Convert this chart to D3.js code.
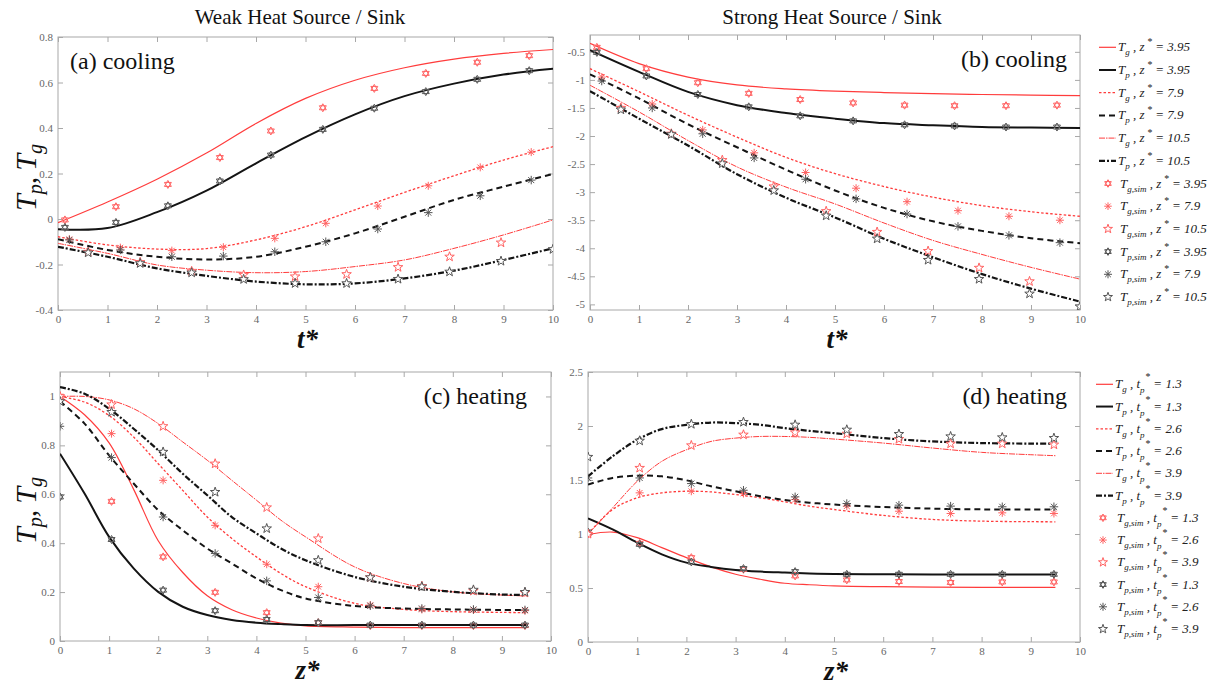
<!DOCTYPE html>
<html lang="en">
	<head>
		<meta charset="UTF-8" />
		<title>Weak / Strong Heat Source and Sink</title>
		<script src="https://d3js.org/d3.v7.min.js"></script>
		<style>
			body {
				margin: 0;
				background: #fff;
			}
			svg {
				font-family: 'Liberation Serif', 'Times New Roman', serif;
			}
			.tick text {
				fill: #666;
				font-size: 11px;
			}
			.tick line {
				stroke: #a8a8a8;
			}
			.legend text {
				font-style: italic;
				font-size: 13px;
				fill: #222;
			}
		</style>
	</head>
	<body>
		<svg id="chart" width="1210" height="687"></svg>
		<script>
			// ---- data ----
			const tA = [0, 1, 2, 3, 4, 5, 6, 7, 8, 9, 10];
			const zGrid = [0, 0.5, 1, 1.5, 2, 2.5, 3, 3.5, 4, 4.5, 5, 6, 7, 8, 9, 9.5];

			// (a) weak, cooling : lines vs t*
			const aTg1 = [-0.016, 0.075, 0.175, 0.29, 0.42, 0.53, 0.61, 0.665, 0.703, 0.728, 0.745];
			const aTp1 = [-0.045, -0.04, 0.03, 0.125, 0.245, 0.36, 0.46, 0.54, 0.595, 0.635, 0.66];
			const aTg2 = [-0.078, -0.114, -0.132, -0.13, -0.092, -0.034, 0.04, 0.117, 0.19, 0.259, 0.318];
			const aTp2 = [-0.089, -0.136, -0.166, -0.178, -0.166, -0.122, -0.063, 0.01, 0.084, 0.142, 0.198];
			const aTg3 = [-0.107, -0.151, -0.202, -0.225, -0.236, -0.231, -0.209, -0.18, -0.129, -0.07, -0.004];
			const aTp3 = [-0.122, -0.166, -0.217, -0.25, -0.275, -0.287, -0.283, -0.261, -0.227, -0.18, -0.129];
			// (a) simulation points
			const sA1 = [0.14, 1.17, 2.22, 3.27, 4.3, 5.35, 6.39, 7.43, 8.47, 9.52];
			const sA2 = [0.23, 1.26, 2.3, 3.34, 4.38, 5.41, 6.46, 7.48, 8.53, 9.56];
			const sA3 = [0.61, 1.66, 2.7, 3.75, 4.79, 5.83, 6.87, 7.91, 8.95, 10.0];
			const aTgS1 = [-0.004, 0.054, 0.152, 0.27, 0.387, 0.489, 0.574, 0.64, 0.689, 0.718];
			const aTpS1 = [-0.037, -0.015, 0.058, 0.167, 0.281, 0.394, 0.487, 0.56, 0.614, 0.652];
			const aTgS2 = [-0.089, -0.126, -0.139, -0.124, -0.085, -0.019, 0.057, 0.146, 0.227, 0.294];
			const aTpS2 = [-0.092, -0.136, -0.166, -0.163, -0.144, -0.1, -0.044, 0.028, 0.102, 0.171];
			const aTgS3 = [-0.145, -0.19, -0.23, -0.246, -0.253, -0.243, -0.212, -0.166, -0.104];
			const aTpS3 = [-0.148, -0.195, -0.236, -0.265, -0.283, -0.283, -0.264, -0.232, -0.185, -0.133];

			// (b) strong, cooling
			const bTg1 = [-0.35, -0.71, -0.95, -1.09, -1.16, -1.2, -1.225, -1.245, -1.26, -1.27, -1.28];
			const bTp1 = [-0.47, -0.857, -1.214, -1.45, -1.59, -1.69, -1.77, -1.81, -1.84, -1.85, -1.855];
			const bTg2 = [-0.8, -1.21, -1.63, -2.02, -2.38, -2.67, -2.9, -3.09, -3.24, -3.35, -3.43];
			const bTp2 = [-0.9, -1.33, -1.79, -2.2, -2.6, -2.97, -3.28, -3.52, -3.69, -3.82, -3.91];
			const bTg3 = [-1.095, -1.57, -2.08, -2.55, -2.91, -3.21, -3.55, -3.86, -4.11, -4.34, -4.55];
			const bTp3 = [-1.2, -1.69, -2.17, -2.68, -3.1, -3.45, -3.83, -4.16, -4.46, -4.72, -4.95];
			const sB1 = [0.14, 1.15, 2.2, 3.24, 4.29, 5.37, 6.42, 7.44, 8.49, 9.53];
			const sB2 = [0.24, 1.27, 2.3, 3.35, 4.4, 5.43, 6.47, 7.51, 8.55, 9.59];
			const sB3 = [0.63, 1.66, 2.7, 3.75, 4.82, 5.86, 6.9, 7.94, 8.97, 10.0];
			const bTgS1 = [-0.42, -0.8, -1.05, -1.24, -1.35, -1.41, -1.45, -1.46, -1.46, -1.45];
			const bTpS1 = [-0.51, -0.93, -1.26, -1.48, -1.64, -1.73, -1.8, -1.82, -1.84, -1.84];
			const bTgS2 = [-0.95, -1.43, -1.89, -2.3, -2.65, -2.93, -3.17, -3.33, -3.43, -3.5];
			const bTpS2 = [-1.02, -1.5, -1.96, -2.39, -2.77, -3.12, -3.39, -3.61, -3.77, -3.9];
			const bTgS3 = [-1.5, -1.96, -2.43, -2.9, -3.34, -3.71, -4.05, -4.35, -4.59];
			const bTpS3 = [-1.53, -1.97, -2.49, -2.97, -3.42, -3.83, -4.21, -4.55, -4.81, -5.04];

			// (c) weak, heating : lines vs z*
			const cTg1 = [1.0, 0.925, 0.81, 0.62, 0.41, 0.28, 0.185, 0.128, 0.094, 0.073, 0.062, 0.057, 0.055, 0.055, 0.055, 0.055];
			const cTp1 = [0.766, 0.603, 0.426, 0.297, 0.201, 0.14, 0.106, 0.086, 0.075, 0.069, 0.065, 0.065, 0.065, 0.065, 0.065, 0.065];
			const cTg2 = [1.0, 0.977, 0.922, 0.834, 0.725, 0.616, 0.507, 0.419, 0.344, 0.276, 0.222, 0.154, 0.129, 0.12, 0.117, 0.116];
			const cTp2 = [0.98, 0.889, 0.759, 0.644, 0.535, 0.453, 0.378, 0.317, 0.256, 0.208, 0.174, 0.143, 0.133, 0.129, 0.127, 0.127];
			const cTg3 = [1.0, 1.0, 0.986, 0.95, 0.889, 0.814, 0.739, 0.657, 0.576, 0.494, 0.426, 0.303, 0.235, 0.201, 0.188, 0.184];
			const cTp3 = [1.038, 1.011, 0.95, 0.868, 0.78, 0.684, 0.596, 0.507, 0.44, 0.378, 0.33, 0.262, 0.222, 0.201, 0.19, 0.188];
			const zS = [0, 1.05, 2.1, 3.16, 4.21, 5.26, 6.32, 7.37, 8.42, 9.47];
			const cTgS1 = [1.0, 0.571, 0.344, 0.199, 0.116, 0.075, 0.063, 0.063, 0.063, 0.063];
			const cTpS1 = [0.589, 0.415, 0.208, 0.124, 0.088, 0.075, 0.065, 0.065, 0.065, 0.065];
			const cTgS2 = [1.0, 0.848, 0.657, 0.473, 0.314, 0.222, 0.147, 0.129, 0.127, 0.124];
			const cTpS2 = [0.878, 0.75, 0.507, 0.358, 0.246, 0.178, 0.144, 0.133, 0.129, 0.127];
			const cTgS3 = [1.0, 0.967, 0.878, 0.725, 0.546, 0.419, 0.26, 0.224, 0.205, 0.197];
			const cTpS3 = [0.98, 0.936, 0.773, 0.609, 0.46, 0.33, 0.26, 0.222, 0.209, 0.2];

			// (d) strong, heating
			const dTg1 = [0.996, 1.018, 0.966, 0.874, 0.781, 0.695, 0.627, 0.581, 0.544, 0.53, 0.52, 0.512, 0.508, 0.506, 0.505, 0.505];
			const dTp1 = [1.144, 1.042, 0.92, 0.812, 0.735, 0.695, 0.667, 0.652, 0.643, 0.635, 0.63, 0.627, 0.625, 0.625, 0.625, 0.625];
			const dTg2 = [1.0, 1.227, 1.335, 1.381, 1.396, 1.39, 1.365, 1.335, 1.298, 1.258, 1.227, 1.172, 1.135, 1.119, 1.114, 1.113];
			const dTp2 = [1.458, 1.519, 1.54, 1.534, 1.497, 1.442, 1.396, 1.35, 1.315, 1.29, 1.273, 1.25, 1.235, 1.228, 1.227, 1.227];
			const dTg3 = [1.0, 1.242, 1.488, 1.673, 1.78, 1.857, 1.888, 1.903, 1.903, 1.895, 1.879, 1.842, 1.796, 1.756, 1.734, 1.725];
			const dTp3 = [1.534, 1.719, 1.873, 1.971, 2.011, 2.032, 2.027, 2.011, 1.98, 1.955, 1.934, 1.888, 1.857, 1.842, 1.837, 1.836];
			const dTgS1 = [1.0, 0.913, 0.781, 0.673, 0.612, 0.575, 0.56, 0.551, 0.556, 0.556];
			const dTpS1 = [1.018, 0.904, 0.741, 0.68, 0.652, 0.627, 0.627, 0.627, 0.627, 0.627];
			const dTgS2 = [1.0, 1.381, 1.396, 1.375, 1.319, 1.258, 1.211, 1.19, 1.196, 1.19];
			const dTpS2 = [1.519, 1.519, 1.467, 1.405, 1.344, 1.282, 1.267, 1.258, 1.252, 1.252];
			const dTgS3 = [1.0, 1.611, 1.82, 1.919, 1.94, 1.928, 1.879, 1.836, 1.836, 1.827];
			const dTpS3 = [1.713, 1.863, 2.017, 2.036, 2.011, 1.965, 1.925, 1.903, 1.894, 1.888];

			// ticks and labels
			const xTicks = [0, 1, 2, 3, 4, 5, 6, 7, 8, 9, 10];
			const yTicksA = [-0.4, -0.2, 0, 0.2, 0.4, 0.6, 0.8];
			const yTicksB = [-5, -4.5, -4, -3.5, -3, -2.5, -2, -1.5, -1, -0.5];
			const yTicksC = [0, 0.2, 0.4, 0.6, 0.8, 1];
			const yTicksD = [0, 0.5, 1, 1.5, 2, 2.5];
			const columnTitles = ['Weak Heat Source / Sink', 'Strong Heat Source / Sink'];
			const panelNames = ['(a) cooling', '(b) cooling', '(c) heating', '(d) heating'];
			const zValues = ['3.95', '7.9', '10.5'];
			const tpValues = ['1.3', '2.6', '3.9'];

			// ---- styles ----
			const red = '#ff3c3c';
			const black = '#141414';
			const redMk = '#ff6262';
			const grayMk = '#555';

			const lineStyles = [
				{ color: red, width: 1.2, dash: null },
				{ color: black, width: 2, dash: null },
				{ color: red, width: 1.3, dash: '2.5,2' },
				{ color: black, width: 2, dash: '6,4' },
				{ color: red, width: 1, dash: '6,1,1.5,1' },
				{ color: black, width: 2.2, dash: '6,2,2,2' },
			];

			const hexagram = {
				draw(ctx, size) {
					const r = Math.sqrt(size);
					const c = r * Math.cos(Math.PI / 6);
					ctx.moveTo(0, -r);
					ctx.lineTo(c, r / 2);
					ctx.lineTo(-c, r / 2);
					ctx.closePath();
					ctx.moveTo(0, r);
					ctx.lineTo(c, -r / 2);
					ctx.lineTo(-c, -r / 2);
					ctx.closePath();
				},
			};
			const asterisk = {
				draw(ctx, size) {
					const r = Math.sqrt(size);
					for (let k = 0; k < 4; k++) {
						const a = (k * Math.PI) / 4;
						ctx.moveTo(-r * Math.cos(a), -r * Math.sin(a));
						ctx.lineTo(r * Math.cos(a), r * Math.sin(a));
					}
				},
			};
			const star = {
				draw(ctx, size) {
					const r = Math.sqrt(size);
					for (let k = 0; k < 10; k++) {
						const rr = k % 2 ? r * 0.4 : r;
						const a = -Math.PI / 2 + (k * Math.PI) / 5;
						const px = rr * Math.cos(a);
						const py = rr * Math.sin(a);
						if (k === 0) ctx.moveTo(px, py);
						else ctx.lineTo(px, py);
					}
					ctx.closePath();
				},
			};

			// order: Tg1, Tp1, Tg2, Tp2, Tg3, Tp3
			const simStyles = [
				{ shape: hexagram, size: 16, color: redMk, fill: 'white' },
				{ shape: hexagram, size: 16, color: grayMk, fill: 'white' },
				{ shape: asterisk, size: 16, color: redMk, fill: 'none' },
				{ shape: asterisk, size: 18, color: grayMk, fill: 'none' },
				{ shape: star, size: 25, color: redMk, fill: 'white' },
				{ shape: star, size: 25, color: grayMk, fill: 'white' },
			];

			const panels = [
				{
					box: [58, 37, 553, 310],
					yDomain: [-0.4, 0.8],
					yTicks: yTicksA,
					name: panelNames[0],
					nameAnchor: 'start',
					nameX: 70,
					lineX: tA,
					lines: [aTg1, aTp1, aTg2, aTp2, aTg3, aTp3],
					simX: [sA1, sA1, sA2, sA2, sA3, sA3],
					sims: [aTgS1, aTpS1, aTgS2, aTpS2, aTgS3, aTpS3],
					xLabel: 't',
					yLabel: true,
				},
				{
					box: [590, 35, 1080, 310],
					yDomain: [-5.1, -0.2],
					yTicks: yTicksB,
					name: panelNames[1],
					nameAnchor: 'end',
					nameX: 1067,
					lineX: tA,
					lines: [bTg1, bTp1, bTg2, bTp2, bTg3, bTp3],
					simX: [sB1, sB1, sB2, sB2, sB3, sB3],
					sims: [bTgS1, bTpS1, bTgS2, bTpS2, bTgS3, bTpS3],
					xLabel: 't',
					yLabel: false,
				},
				{
					box: [60, 372, 551, 641],
					yDomain: [0, 1.1],
					yTicks: yTicksC,
					name: panelNames[2],
					nameAnchor: 'end',
					nameX: 527,
					lineX: zGrid,
					lines: [cTg1, cTp1, cTg2, cTp2, cTg3, cTp3],
					simX: [zS, zS, zS, zS, zS, zS],
					sims: [cTgS1, cTpS1, cTgS2, cTpS2, cTgS3, cTpS3],
					xLabel: 'z',
					yLabel: true,
				},
				{
					box: [588, 372, 1080, 642],
					yDomain: [0, 2.5],
					yTicks: yTicksD,
					name: panelNames[3],
					nameAnchor: 'end',
					nameX: 1067,
					lineX: zGrid,
					lines: [dTg1, dTp1, dTg2, dTp2, dTg3, dTp3],
					simX: [zS, zS, zS, zS, zS, zS],
					sims: [dTgS1, dTpS1, dTgS2, dTpS2, dTgS3, dTpS3],
					xLabel: 'z',
					yLabel: false,
				},
			];

			const svg = d3.select('#chart');
			const fmt = (d) => String(+d.toFixed(2));

			// column titles
			svg
				.selectAll('text.title')
				.data(columnTitles)
				.enter()
				.append('text')
				.attr('class', 'title')
				.attr('x', (d, i) => (i ? 832 : 300))
				.attr('y', 24)
				.attr('text-anchor', 'middle')
				.attr('font-size', 21)
				.attr('fill', '#111')
				.text((d) => d);

			const drawPanel = (p, idx) => {
				const [x0, y0, x1, y1] = p.box;
				const x = d3.scaleLinear().domain([0, 10]).range([x0, x1]);
				const y = d3.scaleLinear().domain(p.yDomain).range([y1, y0]);
				const g = svg.append('g');

				g.append('clipPath')
					.attr('id', 'clip' + idx)
					.append('rect')
					.attr('x', x0)
					.attr('y', y0)
					.attr('width', x1 - x0)
					.attr('height', y1 - y0);

				// axes, ticks pointing inward on all four sides
				const addAxis = (axis, tr) => {
					const a = g.append('g').attr('transform', tr).call(axis);
					a.select('.domain').remove();
					a.selectAll('text').attr('font-family', "'Liberation Serif', serif");
					return a;
				};
				addAxis(d3.axisBottom(x).tickValues(xTicks).tickSize(-5).tickPadding(5).tickFormat(fmt), `translate(0,${y1})`);
				addAxis(d3.axisTop(x).tickValues(xTicks).tickSize(-5).tickFormat(''), `translate(0,${y0})`);
				addAxis(d3.axisLeft(y).tickValues(p.yTicks).tickSize(-5).tickPadding(5).tickFormat(fmt), `translate(${x0},0)`);
				addAxis(d3.axisRight(y).tickValues(p.yTicks).tickSize(-5).tickFormat(''), `translate(${x1},0)`);

				g.append('rect')
					.attr('x', x0)
					.attr('y', y0)
					.attr('width', x1 - x0)
					.attr('height', y1 - y0)
					.attr('fill', 'none')
					.attr('stroke', '#a8a8a8')
					.attr('stroke-width', 1);

				const plot = g.append('g').attr('clip-path', `url(#clip${idx})`);

				const line = d3
					.line()
					.x((d, i) => x(p.lineX[i]))
					.y((d) => y(d))
					.curve(d3.curveCatmullRom.alpha(0.5));

				p.lines.forEach((vals, k) => {
					const st = lineStyles[k];
					plot
						.append('path')
						.attr('d', line(vals))
						.attr('fill', 'none')
						.attr('stroke', st.color)
						.attr('stroke-width', st.width)
						.attr('stroke-dasharray', st.dash);
				});

				p.sims.forEach((vals, k) => {
					const st = simStyles[k];
					const xs = p.simX[k];
					plot
						.selectAll(null)
						.data(vals)
						.enter()
						.append('path')
						.attr('transform', (d, i) => `translate(${x(xs[i])},${y(d)})`)
						.attr('d', d3.symbol().type(st.shape).size(st.size))
						.attr('fill', st.fill)
						.attr('stroke', st.color)
						.attr('stroke-width', 1);
				});

				// panel name
				g.append('text')
					.attr('x', p.nameX)
					.attr('y', y0 + 32)
					.attr('text-anchor', p.nameAnchor)
					.attr('font-size', 24)
					.attr('fill', '#111')
					.text(p.name);

				// x label
				g.append('text')
					.attr('x', (x0 + x1) / 2 + 2)
					.attr('y', y1 + 38)
					.attr('text-anchor', 'middle')
					.attr('font-size', 27)
					.attr('font-style', 'italic')
					.attr('font-weight', 'bold')
					.attr('fill', '#111')
					.text(p.xLabel + '*');

				if (p.yLabel) {
					const t = g
						.append('text')
						.attr('transform', `translate(36,${(y0 + y1) / 2 + 4}) rotate(-90)`)
						.attr('text-anchor', 'middle')
						.attr('font-size', 30)
						.attr('font-style', 'italic')
						.attr('fill', '#111');
					t.append('tspan').text('T');
					t.append('tspan').attr('dy', 6).attr('font-size', 20).text('p');
					t.append('tspan').attr('dy', -6).text(',\u2009T');
					t.append('tspan').attr('dy', 6).attr('font-size', 20).text('g');
				}
			};

			panels.forEach(drawPanel);

			// ---- legends ----
			const buildLabel = (text, sub, param, value) => {
				text.append('tspan').text('T');
				text.append('tspan').attr('dy', 4).attr('font-size', 9).text(sub);
				if (param === 'z') {
					text.append('tspan').attr('dy', -4).text(' , z');
					text.append('tspan').attr('dy', -6).attr('font-size', 10).text(' *');
					text.append('tspan').attr('dy', 6).text(' = ' + value);
				} else {
					text.append('tspan').attr('dy', -4).text(' , t');
					text.append('tspan').attr('dy', 5).attr('font-size', 9).text('p');
					text.append('tspan').attr('dx', -2).attr('dy', -13).attr('font-size', 10).text(' *');
					text.append('tspan').attr('dy', 8).text(' = ' + value);
				}
			};

			const drawLegend = (values, param, top, step, lx0, lx1, mx, tx) => {
				const lg = svg.append('g').attr('class', 'legend');
				const order = [0, 2, 4, 1, 3, 5];
				for (let k = 0; k < 6; k++) {
					const yy = top + k * step;
					const st = lineStyles[k];
					lg.append('line')
						.attr('x1', lx0)
						.attr('x2', lx1)
						.attr('y1', yy)
						.attr('y2', yy)
						.attr('stroke', st.color)
						.attr('stroke-width', st.width)
						.attr('stroke-dasharray', st.dash);
					const t = lg.append('text').attr('x', lx1 + 2).attr('y', yy + 4);
					buildLabel(t, k % 2 ? 'p' : 'g', param, values[Math.floor(k / 2)]);
				}
				order.forEach((s, j) => {
					const yy = top + (6 + j) * step;
					const st = simStyles[s];
					lg.append('path')
						.attr('transform', `translate(${mx},${yy})`)
						.attr('d', d3.symbol().type(st.shape).size(st.size * 0.9))
						.attr('fill', st.fill)
						.attr('stroke', st.color)
						.attr('stroke-width', 1);
					const t = lg.append('text').attr('x', tx).attr('y', yy + 4);
					buildLabel(t, s % 2 ? 'p,sim' : 'g,sim', param, values[Math.floor(s / 2)]);
				});
			};

			drawLegend(zValues, 'z', 47.3, 22.7, 1099, 1116, 1108, 1120);
			drawLegend(tpValues, 't', 384.3, 22.25, 1096, 1113, 1103, 1117);
		</script>
	</body>
</html>
